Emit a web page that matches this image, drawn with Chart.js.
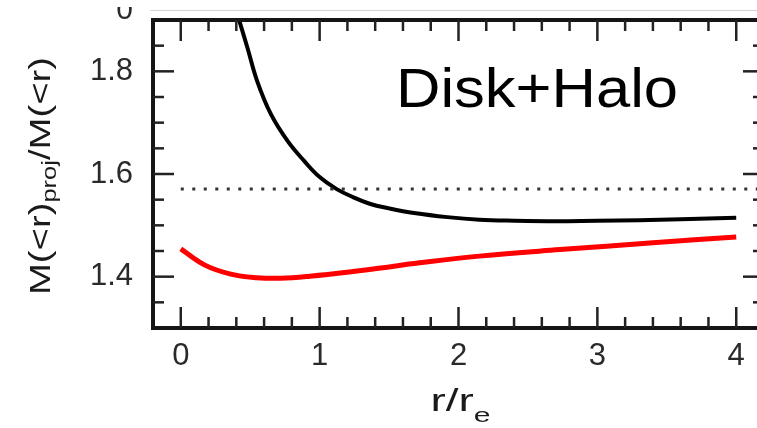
<!DOCTYPE html>
<html>
<head>
<meta charset="utf-8">
<script src="https://cdn.jsdelivr.net/npm/chart.js@4/dist/chart.umd.min.js"></script>
<style>
  html, body { margin: 0; padding: 0; background: #fff; overflow: hidden; width: 757px; height: 428px; }
  #wrap { position: relative; width: 775px; height: 428px; }
</style>
</head>
<body>
<div id="wrap"><canvas id="c" width="775" height="428"></canvas></div>
<script>
// Projected-to-true enclosed mass ratio versus radius in units of r_e
const diskHaloR     = [0.42, 0.48, 0.55, 0.65, 0.77, 0.89, 1.00, 1.12, 1.24, 1.36, 1.50, 1.68, 1.92, 2.15, 2.40, 2.70, 3.00, 3.30, 3.60, 4.00];
const diskHaloRatio = [1.900, 1.846, 1.781, 1.716, 1.664, 1.625, 1.594, 1.571, 1.555, 1.542, 1.533, 1.524, 1.516, 1.511, 1.509, 1.508, 1.509, 1.510, 1.512, 1.515];

const secondR     = [0.00, 0.17, 0.36, 0.55, 0.72, 0.93, 1.24, 1.44, 1.72, 2.15, 2.73, 3.40, 4.00];
const secondRatio = [1.454, 1.423, 1.405, 1.398, 1.397, 1.401, 1.410, 1.417, 1.427, 1.440, 1.4527, 1.466, 1.4775];

// Reference level pi/2
const refR     = [0.0, 4.2];
const refRatio = [1.5708, 1.5708];

const xTickValues = [0, 1, 2, 3, 4];
const yTickValues = [1.4, 1.6, 1.8];

const panelLabel = 'Disk+Halo';

const toPoints = (xs, ys) => xs.map((v, i) => ({ x: v, y: ys[i] }));

function fitText(ctx, parts, startX, baseY, sx) {
  // parts: [{text, font, dy}], drawn left to right with a horizontal stretch
  let cx = startX;
  for (const p of parts) {
    ctx.font = p.font;
    const w = ctx.measureText(p.text).width * sx;
    ctx.save();
    ctx.translate(cx, baseY + (p.dy || 0));
    ctx.scale(sx, 1);
    ctx.textAlign = 'left';
    ctx.textBaseline = 'alphabetic';
    ctx.fillText(p.text, 0, 0);
    ctx.restore();
    cx += w;
  }
}
function naturalWidth(ctx, parts) {
  let w = 0;
  for (const p of parts) { ctx.font = p.font; w += ctx.measureText(p.text).width; }
  return w;
}

const frameAndLabels = {
  id: 'frameAndLabels',
  afterDatasetsDraw(chart) {
    const { ctx, chartArea: a, scales: { x, y } } = chart;
    const seg = (x1, y1, x2, y2) => { ctx.beginPath(); ctx.moveTo(x1, y1); ctx.lineTo(x2, y2); ctx.stroke(); };
    ctx.save();

    // thin rule above the panel
    ctx.strokeStyle = '#d2d2d2';
    ctx.lineWidth = 1;
    seg(a.left - 3, 10.5, a.right, 10.5);

    // partly hidden label at the top left
    ctx.save();
    ctx.beginPath(); ctx.rect(100, 7, 40, 20); ctx.clip();
    ctx.fillStyle = '#2a2a2a';
    ctx.font = '30px "Liberation Sans", Arial, sans-serif';
    ctx.textAlign = 'right';
    ctx.fillText('0', 133, 19);
    ctx.restore();

    // frame
    ctx.strokeStyle = '#151515';
    ctx.lineWidth = 4;
    ctx.strokeRect(a.left, a.top, a.right - a.left, a.bottom - a.top);

    // inward ticks on all four sides
    ctx.strokeStyle = '#222';
    ctx.lineWidth = 2.5;
    for (let i = 1; i < 22; i++) {
      const v = -0.2 + i * 0.2;
      const major = Math.abs(v - Math.round(v)) < 1e-6;
      const len = major ? 21 : 11;
      const px = x.getPixelForValue(v);
      seg(px, a.bottom, px, a.bottom - len);
      seg(px, a.top, px, a.top + len);
    }
    for (let i = 1; i < 12; i++) {
      const v = 1.3 + i * 0.05;
      const major = Math.abs(v * 5 - Math.round(v * 5)) < 1e-6;
      const len = major ? 21 : 11;
      const py = y.getPixelForValue(v);
      seg(a.left, py, a.left + len, py);
      seg(a.right, py, a.right - len, py);
    }

    ctx.fillStyle = '#1a1a1a';

    // y axis title, rotated, with subscript
    const yParts = [
      { text: 'M(<r)', font: '30px "Liberation Sans", Arial, sans-serif', dy: 0 },
      { text: 'proj', font: '20px "Liberation Sans", Arial, sans-serif', dy: 6 },
      { text: '/M(<r)', font: '30px "Liberation Sans", Arial, sans-serif', dy: 0 }
    ];
    const yLen = 238;
    const ySx = yLen / naturalWidth(ctx, yParts);
    ctx.save();
    ctx.translate(50, 176);
    ctx.rotate(-Math.PI / 2);
    fitText(ctx, yParts, -yLen / 2, 0, ySx);
    ctx.restore();

    // x axis title with subscript
    const xParts = [
      { text: 'r/r', font: '32px "Liberation Sans", Arial, sans-serif', dy: 0 },
      { text: 'e', font: '21px "Liberation Sans", Arial, sans-serif', dy: 11 }
    ];
    const xLen = 60;
    const xSx = xLen / naturalWidth(ctx, xParts);
    fitText(ctx, xParts, x.getPixelForValue(2) - 28, 411, xSx);

    // panel label
    ctx.fillStyle = '#000';
    const lp = [{ text: panelLabel, font: '56px "Liberation Sans", Arial, sans-serif', dy: 0 }];
    fitText(ctx, lp, x.getPixelForValue(1.55), y.getPixelForValue(1.7298), 282 / naturalWidth(ctx, lp));

    ctx.restore();
  }
};

const noEdgePadding = s => {
  s.paddingTop = 0; s.paddingBottom = 0; s.paddingLeft = 0; s.paddingRight = 0;
};

new Chart(document.getElementById('c'), {
  type: 'line',
  data: {
    datasets: [
      {
        data: toPoints(refR, refRatio),
        borderColor: '#333',
        borderWidth: 3,
        borderDash: [3, 8.5],
        pointRadius: 0
      },
      {
        data: toPoints(diskHaloR, diskHaloRatio),
        borderColor: '#000',
        borderWidth: 4,
        tension: 0.4,
        pointRadius: 0
      },
      {
        data: toPoints(secondR, secondRatio),
        borderColor: '#ff0000',
        borderWidth: 5,
        tension: 0.4,
        pointRadius: 0
      }
    ]
  },
  options: {
    responsive: false,
    animation: false,
    devicePixelRatio: 1,
    layout: { autoPadding: false, padding: { top: 20, right: 11, left: 0, bottom: 0 } },
    plugins: { legend: { display: false }, tooltip: { enabled: false } },
    scales: {
      x: {
        type: 'linear',
        min: -0.2,
        max: 4.2,
        grid: { display: false, drawTicks: false },
        border: { display: false },
        afterBuildTicks: s => { s.ticks = xTickValues.map(v => ({ value: v })); },
        afterFit: s => { s.height = 100; noEdgePadding(s); },
        ticks: {
          padding: 10,
          color: '#2a2a2a',
          font: { family: '"Liberation Sans", Arial, sans-serif', size: 31 },
          callback: v => String(v),
          maxRotation: 0
        }
      },
      y: {
        type: 'linear',
        min: 1.3,
        max: 1.9,
        grid: { display: false, drawTicks: false },
        border: { display: false },
        afterBuildTicks: s => { s.ticks = yTickValues.map(v => ({ value: v })); },
        afterFit: s => { s.width = 153; noEdgePadding(s); },
        ticks: {
          padding: 20,
          color: '#2a2a2a',
          font: { family: '"Liberation Sans", Arial, sans-serif', size: 31 },
          callback: v => Number(v).toFixed(1)
        }
      }
    }
  },
  plugins: [frameAndLabels]
});
</script>
</body>
</html>
